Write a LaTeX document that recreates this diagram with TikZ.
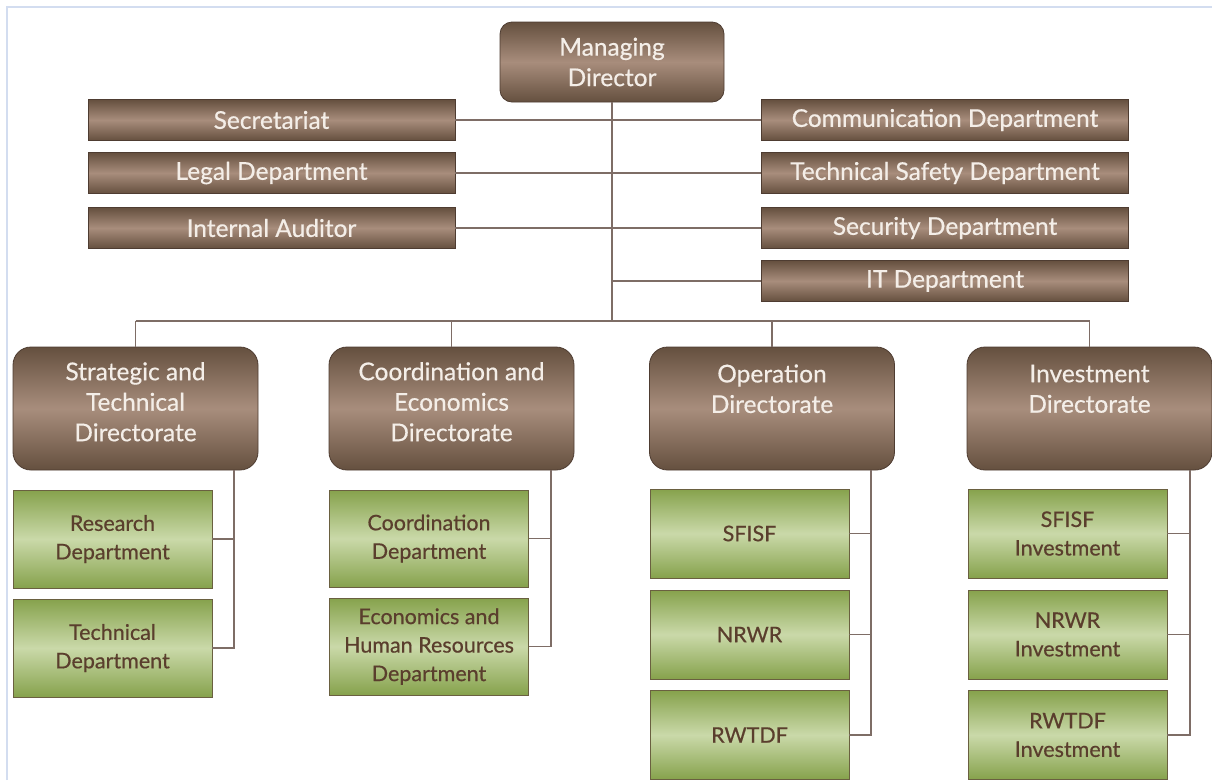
\documentclass[tikz,border=0pt]{standalone}
\usepackage{fontspec}
\setmainfont{Lato}
\newfontfamily\labfont{Lato}[FakeBold=0.5]
\definecolor{brD}{HTML}{65503F}
\definecolor{brL}{HTML}{A88D7C}
\definecolor{brEdge}{HTML}{4E3C31}
\definecolor{brTxt}{HTML}{F4EEE8}
\definecolor{grD}{HTML}{86A24C}
\definecolor{grL}{HTML}{CAD9A9}
\definecolor{grEdge}{HTML}{6A6040}
\definecolor{grTxt}{HTML}{5A3E2D}
\definecolor{conn}{HTML}{7E6D66}
\definecolor{frame}{HTML}{D3DDF0}
\tikzset{
  brbox/.style={draw=brEdge, line width=0.8pt, top color=brD, bottom color=brD, middle color=brL,
     text=brTxt, inner sep=0pt, align=center, font=\labfont\fontsize{24.5}{30.5}\selectfont},
  bar/.style={brbox, minimum width=367pt, minimum height=41pt},
  mdbox/.style={brbox, rounded corners=12pt, minimum width=224pt, minimum height=80pt},
  dirbox/.style={brbox, rounded corners=18pt, minimum width=245pt, minimum height=123pt},
  grbox/.style={draw=grEdge, line width=0.8pt, top color=grD, bottom color=grD, middle color=grL,
     text=grTxt, inner sep=0pt, align=center, minimum width=199pt, font=\labfont\fontsize{21.5}{28.5}\selectfont},
  link/.style={draw=conn, line width=1.6pt}
}
\begin{document}
\begin{tikzpicture}[x=1pt,y=-1pt]
\useasboundingbox (0,0) rectangle (1212,780);
\fill[white] (0,0) rectangle (1212,780);
\draw[frame, line width=2pt] (7,780) -- (7,7) -- (1212,7);

% managing director
\node[mdbox] (md) at (612,62) {Managing\\Director};

% staff units
\node[bar] (sec) at (271.5,120) {Secretariat};
\node[bar] (leg) at (271.5,173) {Legal Department};
\node[bar] (aud) at (271.5,228) {Internal Auditor};
\node[bar] (com) at (945,120) {Communication Department};
\node[bar] (tsd) at (945,173) {Technical Safety Department};
\node[bar] (scd) at (945,228) {Security Department};
\node[bar] (itd) at (945,281) {IT Department};

% directorates
\node[dirbox] (std) at (135.5,408.5) {Strategic and\\Technical\\Directorate\\[-26pt]\strut};
\node[dirbox] (ced) at (451.5,408.5) {Coordination and\\Economics\\Directorate\\[-26pt]\strut};
\node[dirbox] (opd) at (772,408.5) {Operation\\Directorate\\\strut};
\node[dirbox] (ivd) at (1089.5,408.5) {Investment\\Directorate\\\strut};

% departments
\node[grbox, minimum height=98pt] (res) at (112.5,539) {Research\\Department};
\node[grbox, minimum height=98pt] (tec) at (112.5,648) {Technical\\Department};
\node[grbox, minimum height=97pt] (cod) at (429,538.5) {Coordination\\Department};
\node[grbox, minimum height=97pt] (ehr) at (429,646.5) {Economics and\\Human Resources\\Department};
\node[grbox, minimum height=89pt] (sf) at (749.5,533.5) {SFISF};
\node[grbox, minimum height=89pt] (nr) at (749.5,634.5) {NRWR};
\node[grbox, minimum height=89pt] (rw) at (749.5,735) {RWTDF};
\node[grbox, minimum height=89pt] (sfi) at (1067.5,533.5) {SFISF\\Investment};
\node[grbox, minimum height=89pt] (nri) at (1067.5,634.5) {NRWR\\Investment};
\node[grbox, minimum height=89pt] (rwi) at (1067.5,735) {RWTDF\\Investment};

% connector helpers
\coordinate (bus) at (612,321);
\coordinate (vs) at (234,470);
\coordinate (vc) at (551,470);
\coordinate (vo) at (871,470);
\coordinate (vi) at (1190,470);

% trunk and staff branches
\draw[link] (md.south) -- (md.south |- bus);
\draw[link] (sec.east) -- (sec.east -| md.south);
\draw[link] (leg.east) -- (leg.east -| md.south);
\draw[link] (aud.east) -- (aud.east -| md.south);
\draw[link] (com.west) -- (com.west -| md.south);
\draw[link] (tsd.west) -- (tsd.west -| md.south);
\draw[link] (scd.west) -- (scd.west -| md.south);
\draw[link] (itd.west) -- (itd.west -| md.south);

% bus to directorates
\draw[link] (std.north |- bus) -- (ivd.north |- bus);
\draw[link] (std.north) -- (std.north |- bus);
\draw[link] (ced.north) -- (ced.north |- bus);
\draw[link] (opd.north) -- (opd.north |- bus);
\draw[link] (ivd.north) -- (ivd.north |- bus);

% directorates to departments
\draw[link] (vs) |- (tec.east);
\draw[link] (res.east) -- (res.east -| vs);
\draw[link] (vc) |- (ehr.east);
\draw[link] (cod.east) -- (cod.east -| vc);
\draw[link] (vo) |- (rw.east);
\draw[link] (sf.east) -- (sf.east -| vo);
\draw[link] (nr.east) -- (nr.east -| vo);
\draw[link] (vi) |- (rwi.east);
\draw[link] (sfi.east) -- (sfi.east -| vi);
\draw[link] (nri.east) -- (nri.east -| vi);
\end{tikzpicture}
\end{document}
